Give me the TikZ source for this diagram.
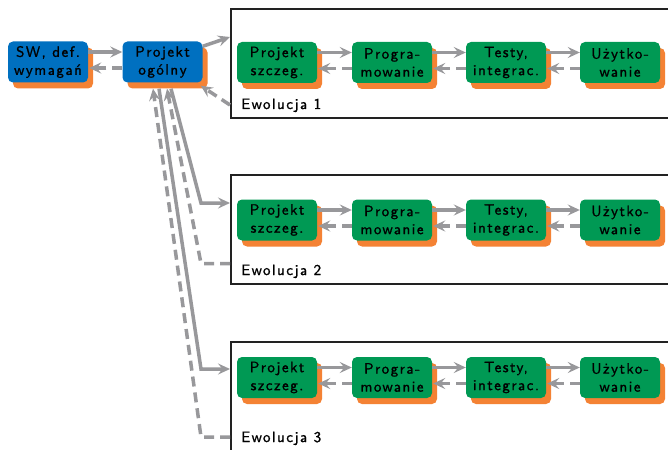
\documentclass[tikz,border=0pt]{standalone}
\usepackage{fontspec}
\newfontfamily\labfont{lmsans10-regular.otf}[LetterSpace=10,FakeBold=1.2]
\usetikzlibrary{arrows.meta,shadows}
\definecolor{boxblue}{RGB}{0,112,192}
\definecolor{boxgreen}{RGB}{0,153,84}
\definecolor{shadeorange}{RGB}{244,130,52}
\definecolor{flowgray}{RGB}{152,152,155}
\definecolor{framegray}{RGB}{34,34,34}
\tikzset{
  stage/.style={rounded corners=5pt, minimum width=80pt, minimum height=41pt,
    inner sep=0pt, align=center, text=black,
    font=\labfont\fontsize{15}{18}\selectfont,
    general shadow={fill=shadeorange, shadow xshift=5pt, shadow yshift=-6pt}},
  bluestage/.style={stage, fill=boxblue},
  greenstage/.style={stage, fill=boxgreen},
  fwd/.style={draw=flowgray, line width=3.5pt,
    -{Stealth[length=12pt,width=11pt,inset=4.5pt]}},
  back/.style={fwd, dash pattern=on 10pt off 6pt},
  evoframe/.style={draw=framegray, line width=2.4pt, anchor=north west,
    minimum width=470pt, minimum height=109pt, inner sep=0pt},
  evolabel/.style={anchor=base west, inner sep=0pt,
    font=\labfont\fontsize{15}{18}\selectfont}
}
\begin{document}
\begin{tikzpicture}[x=1pt,y=-1pt]
\useasboundingbox (0,0) rectangle (668,449);
\fill[white] (0,0) rectangle (668,449);
\clip (0,0) rectangle (668,449);

% evolution frames (open to the right)
\node[evoframe] (f1) at (230,8) {};
\node[evoframe] (f2) at (230,174) {};
\node[evoframe] (f3) at (230,341) {};
\node[evolabel] (e1) at (241,109) {Ewolucja 1};
\node[evolabel] (e2) at (241,275) {Ewolucja 2};
\node[evolabel] (e3) at (241,442) {Ewolucja 3};

\coordinate (f1in)  at ([yshift=-29pt]f1.north west);
\coordinate (f1out) at ([yshift=-97pt]f1.north west);
\coordinate (f2in)  at ([yshift=-29pt]f2.north west);
\coordinate (f2out) at ([yshift=-89.5pt]f2.north west);
\coordinate (f3in)  at ([yshift=-28pt]f3.north west);
\coordinate (f3out) at ([yshift=-96pt]f3.north west);

% common stages
\node[bluestage] (sw) at (48,62) {SW, def.\\wymagań};
\node[bluestage] (po) at (162.5,62) {Projekt\\ogólny};
\draw[fwd]  ([yshift=10pt]sw.east) -- ([yshift=10pt]po.west);
\draw[back] ([yshift=-6pt]po.west) -- ([xshift=1pt,yshift=-6pt]sw.east);

% stages of each evolution
\foreach \k/\y in {1/62.5,2/220,3/377.5} {
  \node[greenstage] (ps\k) at (277,\y) {Projekt\\szczeg.};
  \node[greenstage] (pr\k) at (392,\y) {Progra-\\mowanie};
  \node[greenstage] (ti\k) at (506,\y) {Testy,\\integrac.};
  \node[greenstage] (uz\k) at (620,\y) {Użytko-\\wanie};
  \draw[fwd]  ([yshift=10pt]ps\k.east) -- ([yshift=10pt]pr\k.west);
  \draw[fwd]  ([yshift=10pt]pr\k.east) -- ([yshift=10pt]ti\k.west);
  \draw[fwd]  ([yshift=10pt]ti\k.east) -- ([yshift=10pt]uz\k.west);
  \draw[back] ([yshift=-6pt]pr\k.west) -- ([xshift=1pt,yshift=-6pt]ps\k.east);
  \draw[back] ([yshift=-6pt]ti\k.west) -- ([xshift=1pt,yshift=-6pt]pr\k.east);
  \draw[back] ([yshift=-6pt]uz\k.west) -- ([xshift=1pt,yshift=-6pt]ti\k.east);
}

% links between the general design and the evolutions
\draw[fwd]  ([yshift=-5pt]po.north east) -- (f1in);
\draw[back] (f1out) -- ([xshift=-2pt,yshift=-3pt]po.south east);
\draw[fwd]  ([xshift=8.5pt,yshift=-6pt]po.south) -- ([xshift=-29pt]f2in) -- (f2in);
\draw[back] (f2out) -- ([xshift=-29pt]f2out) -- ([xshift=4.5pt,yshift=-6pt]po.south);
\draw[fwd]  ([xshift=-3.5pt,yshift=-6pt]po.south) -- ([xshift=-29pt]f3in) -- (f3in);
\draw[back] (f3out) -- ([xshift=-29pt]f3out) -- ([xshift=-9.5pt,yshift=-6pt]po.south);
\end{tikzpicture}
\end{document}
